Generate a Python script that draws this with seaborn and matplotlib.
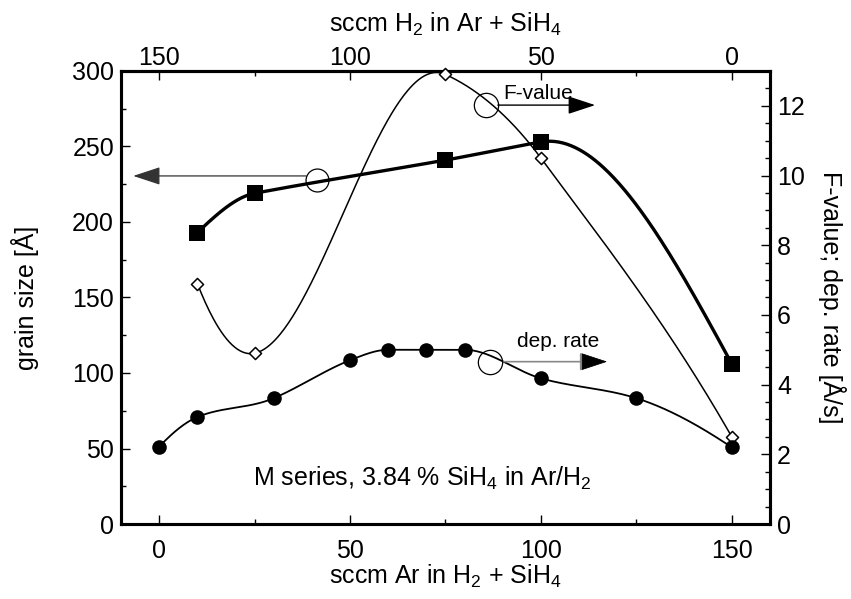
import numpy as np
import pandas as pd
import matplotlib
matplotlib.use('Agg')
import matplotlib.pyplot as plt
import seaborn as sns

# ---- data ----
ar_grain = [10, 25, 75, 100, 150]
grain_size = [193, 219, 241, 253, 106]

ar_fvalue = [10, 25, 75, 100, 150]
f_value = [6.9, 4.9, 12.9, 10.5, 2.5]

ar_dep = [0, 10, 30, 50, 60, 70, 80, 100, 125, 150]
dep_rate = [2.22, 3.07, 3.61, 4.70, 5.00, 5.00, 5.00, 4.18, 3.61, 2.20]

x_ticks = [0, 50, 100, 150]
top_ticks = [150, 100, 50, 0]
left_ticks = [0, 50, 100, 150, 200, 250, 300]
right_ticks = [0, 2, 4, 6, 8, 10, 12]


def akima(x, y, n=400):
    """Akima interpolation through the data points."""
    x = np.asarray(x, float)
    y = np.asarray(y, float)
    k = len(x)
    m = np.diff(y) / np.diff(x)
    mm = np.empty(k + 3)
    mm[2:-2] = m
    mm[1] = 2 * m[0] - m[1]
    mm[0] = 2 * mm[1] - m[0]
    mm[-2] = 2 * m[-1] - m[-2]
    mm[-1] = 2 * mm[-2] - m[-1]
    t = np.empty(k)
    for i in range(k):
        m1, m2, m3, m4 = mm[i], mm[i + 1], mm[i + 2], mm[i + 3]
        w1 = abs(m4 - m3)
        w2 = abs(m2 - m1)
        if w1 + w2 == 0:
            t[i] = 0.5 * (m2 + m3)
        else:
            t[i] = (w1 * m2 + w2 * m3) / (w1 + w2)
    xs = np.linspace(x[0], x[-1], n)
    idx = np.clip(np.searchsorted(x, xs) - 1, 0, k - 2)
    h = x[idx + 1] - x[idx]
    s = (xs - x[idx]) / h
    h00 = 2 * s ** 3 - 3 * s ** 2 + 1
    h10 = s ** 3 - 2 * s ** 2 + s
    h01 = -2 * s ** 3 + 3 * s ** 2
    h11 = s ** 3 - s ** 2
    ys = h00 * y[idx] + h10 * h * t[idx] + h01 * y[idx + 1] + h11 * h * t[idx + 1]
    return xs, ys


sns.set_theme(style='white')
plt.rcParams['font.family'] = ['Liberation Sans', 'DejaVu Sans']
plt.rcParams['mathtext.fontset'] = 'custom'
plt.rcParams['mathtext.rm'] = 'Liberation Sans'
plt.rcParams['mathtext.it'] = 'Liberation Sans'
plt.rcParams['text.color'] = 'black'
plt.rcParams['axes.labelcolor'] = 'black'
plt.rcParams['xtick.color'] = 'black'
plt.rcParams['ytick.color'] = 'black'

FS = 18
FA = 15
fig = plt.figure(figsize=(8.51, 5.99), dpi=100)
ax = fig.add_axes([0.1422, 0.1252, 0.7626, 0.7563])
ax2 = ax.twinx()

# curves
gx, gy = akima(ar_grain, grain_size)
fx, fy = akima(ar_fvalue, f_value)
dx_, dy_ = akima(ar_dep, dep_rate)

sns.lineplot(x=gx, y=gy, ax=ax, color='black', lw=2.4, sort=False)
sns.lineplot(x=fx, y=fy, ax=ax2, color='black', lw=1.1, sort=False)
sns.lineplot(x=dx_, y=dy_, ax=ax2, color='black', lw=1.3, sort=False)

sns.scatterplot(x=ar_grain, y=grain_size, ax=ax, marker='s', s=130,
                color='black', edgecolor='black', linewidth=0, zorder=5)
sns.scatterplot(x=ar_fvalue, y=f_value, ax=ax2, marker='D', s=38,
                facecolor='white', edgecolor='black', linewidth=1.1, zorder=5,
                clip_on=False)
sns.scatterplot(x=ar_dep, y=dep_rate, ax=ax2, marker='o', s=110,
                color='black', edgecolor='black', linewidth=0, zorder=5)

ax.set_xlim(-10, 160)
ax.set_ylim(0, 300)
ax2.set_ylim(0, 13)

ax.set_xticks(x_ticks)
ax.set_xticks(np.arange(25, 160, 50), minor=True)
ax.set_yticks(left_ticks)
ax.set_yticks(np.arange(25, 300, 50), minor=True)
ax2.set_yticks(right_ticks)
ax2.set_yticks(np.arange(0.5, 13, 0.5), minor=True)

top = ax.secondary_xaxis('top', functions=(lambda v: 150 - v, lambda v: 150 - v))
top.set_xticks(top_ticks)
top.set_xticks([125, 75, 25], minor=True)

for a in (ax, ax2):
    for s in a.spines.values():
        s.set_linewidth(2.2)
        s.set_color('black')
for s in top.spines.values():
    s.set_linewidth(2.2)

ax.tick_params(axis='both', which='major', direction='in', length=6.5, width=1,
               labelsize=FS, colors='black')
ax.tick_params(axis='x', which='major', pad=11)
ax.tick_params(axis='y', which='major', pad=5)
ax.tick_params(axis='both', which='minor', direction='in', length=3.5, width=1)
ax.tick_params(axis='y', which='both', left=True, right=False)
ax.tick_params(axis='x', which='both', bottom=True, top=False)
ax2.tick_params(axis='y', which='major', direction='in', length=6.5, width=1,
                labelsize=FS, colors='black', right=True, pad=5)
ax2.tick_params(axis='y', which='minor', direction='in', length=3.5, width=1, right=True)
top.tick_params(axis='x', which='major', direction='in', length=6.5, width=1,
                labelsize=FS, colors='black', pad=1)
top.tick_params(axis='x', which='minor', direction='in', length=3.5, width=1)

ax.set_xlabel('sccm Ar in H$_2$ + SiH$_4$', fontsize=FS, labelpad=0, color='black')
ax.set_ylabel('grain size [Å]', fontsize=FS, labelpad=24, color='black')
ax2.set_ylabel('F-value; dep. rate [Å/s]', fontsize=FS, rotation=270, labelpad=30,
               color='black')
top.set_xlabel('sccm H$_2$ in Ar + SiH$_4$', fontsize=FS, labelpad=10, color='black')

arrow_style = '-|>,head_length=0.85,head_width=0.28'

# grain size -> left axis
ax.plot([41.4], [227.6], marker='o', ms=16.5, mfc='none', mec='black', mew=0.9, zorder=6)
ax.annotate('', xy=(-6.8, 230.5), xytext=(38.5, 230.5),
            arrowprops=dict(arrowstyle=arrow_style, mutation_scale=20, lw=0.9,
                            color='#333333', shrinkA=0, shrinkB=0))

# F-value -> right axis
fy_ann = 277.4 * 13 / 300
ax2.plot([85.6], [fy_ann], marker='o', ms=17.5, mfc='none', mec='black', mew=0.9, zorder=6)
ax2.annotate('', xy=(114.2, fy_ann), xytext=(88.7, fy_ann),
             arrowprops=dict(arrowstyle=arrow_style, mutation_scale=20, lw=1.0,
                             color='black', shrinkA=0, shrinkB=0))
ax2.text(90.0, fy_ann + 0.05, 'F-value', fontsize=FA, ha='left', va='bottom')

# dep. rate -> right axis
dy_ann = 107.5 * 13 / 300
ax2.plot([86.7], [dy_ann], marker='o', ms=17.5, mfc='none', mec='black', mew=0.9, zorder=6)
ax2.annotate('', xy=(117.3, dy_ann), xytext=(90.0, dy_ann),
             arrowprops=dict(arrowstyle=arrow_style, mutation_scale=20, lw=1.2,
                             color='#888888', shrinkA=0, shrinkB=0))
ax2.annotate('', xy=(117.3, dy_ann), xytext=(112.0, dy_ann),
             arrowprops=dict(arrowstyle=arrow_style, mutation_scale=20, lw=0.5,
                             color='black', shrinkA=0, shrinkB=0))
ax2.text(104.5, 121 * 13 / 300, 'dep. rate', fontsize=FA, ha='center', va='center')

ax.text(68.9, 30.5, 'M series, 3.84 % SiH$_4$ in Ar/H$_2$', fontsize=FS,
        ha='center', va='center')

fig.savefig('out.png', dpi=100, facecolor='white')
